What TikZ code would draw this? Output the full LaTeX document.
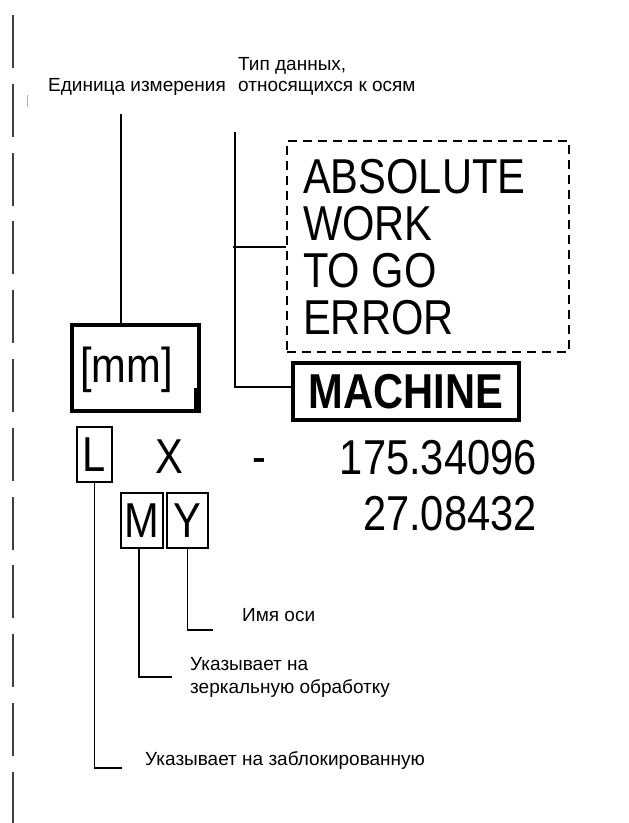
\documentclass[tikz,border=0pt]{standalone}
\usepackage{fontspec}
\setmainfont{Liberation Sans}
\newfontfamily\narrowfont[FakeStretch=0.85]{Liberation Sans}
\begin{document}
\begin{tikzpicture}[x=1pt,y=-1pt,
  lbl/.style={font=\fontsize{19}{22}\selectfont, inner sep=0pt, anchor=base west},
  big/.style={font=\narrowfont\fontsize{49}{49}\selectfont, inner sep=0pt},
  conn/.style={line width=1.5pt, black},
  thinbox/.style={draw, line width=1.5pt, inner sep=0pt, font=\narrowfont\fontsize{49}{49}\selectfont},
  thickbox/.style={draw, line width=3.5pt, inner sep=0pt}
]
\useasboundingbox[fill=white] (0,0) rectangle (629,823);

% left margin dashed rule
\draw[line width=2.4pt, black!75, dash pattern=on 53pt off 15.8pt] (13,15) -- (13,823);
\draw[line width=1pt, black!30] (27,95) -- (27,107);

% top labels
\node[lbl] (unit) at (48,91) {Единица измерения};
\node[lbl] (typ1) at (238,70) {Тип данных,};
\node[lbl] (typ2) at (238,91) {относящихся к осям};
\coordinate (u0) at (121,114);
\coordinate (t0) at (235,132);

% [mm] box
\node[thickbox, minimum width=127pt, minimum height=86pt] (mm) at (135.5,368) {};
\node[big, anchor=base west] (mmt) at (80,382) {[mm]};
\fill (194,388) rectangle (200,411);
\draw[conn] (u0) -- (u0 |- mm.north);

% dashed box with data types
\node[draw, dash pattern=on 9pt off 6pt, line width=1.5pt, minimum width=282pt, minimum height=211pt, inner sep=0pt] (dbox) at (428,246.5) {};
\node[big, anchor=base west] (abs) at (303,193) {ABSOLUTE};
\node[big, anchor=base west] (work) at (303,240) {WORK};
\node[big, anchor=base west] (togo) at (303,287) {TO GO};
\node[big, anchor=base west] (err) at (303,334) {ERROR};

% MACHINE box
\node[thickbox, minimum width=226pt, minimum height=57pt, font=\narrowfont\bfseries\fontsize{49}{49}\selectfont] (mach) at (406,391.5) {MACHINE};

\coordinate (t1) at (235,387);
\draw[conn] (t0) -- (t1) -- (t1 -| mach.west);
\coordinate (t2) at (233,247);
\draw[conn] (t2) -- (t2 -| dbox.west);

% row 1
\node[thinbox, minimum width=35pt, minimum height=55pt] (Lb) at (94.5,454.5) {L};
\node[big, anchor=base] (X) at (169.5,473) {X};
\node[big, anchor=base] (minus) at (259,473) {-};
\node[big, anchor=base east] (v1) at (537,474) {175.34096};

% row 2
\node[thinbox, minimum width=42pt, minimum height=55pt] (Mb) at (142,520.5) {M};
\node[thinbox, minimum width=41pt, minimum height=55pt] (Yb) at (187.5,520.5) {Y};
\node[big, anchor=base east] (v2) at (537,530) {27.08432};

% bottom callouts
\coordinate (y1) at (213,630);
\draw[conn] (Yb.south) |- (y1);
\coordinate (m0) at (139,548);
\coordinate (m1) at (172,677);
\draw[conn] (m0) |- (m1);
\coordinate (l1) at (122,768);
\draw[conn] (Lb.south) |- (l1);

\node[lbl] (yname) at (242,621) {Имя оси};
\node[lbl] (mir1) at (190,670) {Указывает на};
\node[lbl] (mir2) at (190,693) {зеркальную обработку};
\node[lbl] (lock) at (145,765) {Указывает на заблокированную};
\end{tikzpicture}
\end{document}
